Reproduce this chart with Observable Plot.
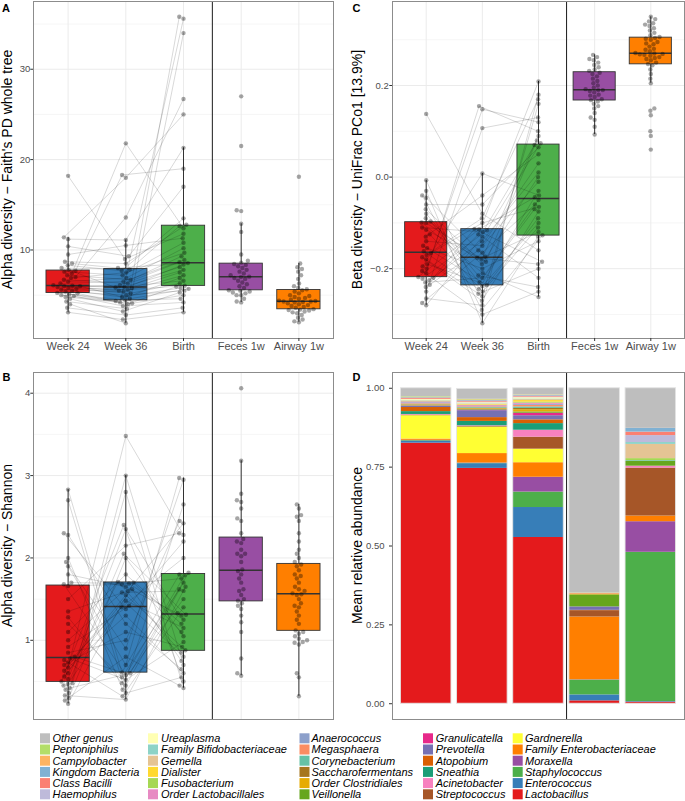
<!DOCTYPE html>
<html><head><meta charset="utf-8">
<script src="https://cdn.jsdelivr.net/npm/d3@7"></script>
<script src="https://cdn.jsdelivr.net/npm/@observablehq/plot@0.6"></script>
<style>
body{margin:0;background:#fff;font-family:"Liberation Sans",Arial,Helvetica,sans-serif;}
#root{position:relative;width:685px;height:801px;overflow:hidden;background:#fff}
#root > svg{position:absolute}
</style></head><body><div id="root"></div>
<script>
// ---------- categories ----------
const groups = ["Week 24","Week 36","Birth","Feces 1w","Airway 1w"];
const groupColors = ["#E41A1C","#377EB8","#4DAF4A","#984EA3","#FF7F00"];

// ---------- Panel A: Faith's PD (first three arrays aligned by subject) ----------
const faithWeek24 = [6.0,4.8,7.4,5.5,11.2,3.6,6.5,5.1,8.3,6.05,4.3,7.7,5.9,18.2,5.25,6.9,4.0,8.7,5.7,6.3,3.1,7.0,5.4,9.5,6.1,4.9,7.6,5.8,11.4,5.0,6.7,4.6,8.0,5.6,6.0,10.4,5.2,7.2,8.5,7.8];
const faithWeek36 = [5.5,4.2,21.8,4.8,11.1,2.8,6.9,4.35,7.7,5.8,3.5,18.3,6.1,9.0,4.45,7.5,1.9,8.5,5.2,6.5,2.3,13.6,5.0,10.5,5.95,3.8,7.2,5.6,18.0,4.1,6.3,3.2,7.85,5.4,4.6,9.3,4.0,6.7,8.0,5.85];
const faithBirth = [8.4,35.6,12.4,5.8,21.3,3.6,10.2,6.9,13.5,7.5,35.8,19.0,8.65,11.8,4.6,9.7,34.0,12.8,6.3,8.9,3.1,26.7,5.5,11.3,7.8,4.2,10.8,6.05,25.0,5.0,8.1,5.3,12.65,7.2,5.7,17.0,5.95,9.3,8.55,6.6];
const faithFeces = [4.2,4.3,4.6,5.0,5.0,5.2,5.3,5.4,5.5,5.55,5.8,6.0,6.2,6.4,6.6,6.8,6.9,7.0,7.05,7.2,7.4,7.6,7.8,8.0,8.2,8.35,8.45,8.6,8.8,9.5,12.0,12.9,14.3,14.4,21.5,27.0];
const faithAirway = [2.0,2.1,2.3,2.5,2.8,3.0,3.1,3.2,3.3,3.35,3.4,3.45,3.6,3.7,3.8,3.9,4.0,4.1,4.2,4.25,4.3,4.3,4.35,4.4,4.5,4.6,4.7,4.8,4.9,5.0,5.2,5.4,5.55,5.65,5.8,6.0,6.3,6.8,7.2,7.6,7.9,8.1,8.5,18.1];

// ---------- Panel B: Shannon ----------
const shannonWeek24 = [0.56,1.68,0.4,0.85,2.7,0.23,0.73,1.28,0.48,1.9,0.63,0.33,1.1,2.28,0.45,0.78,1.66,0.27,0.53,2.0,0.92,0.42,1.7,0.67,2.83,0.3,1.35,0.76,0.5,1.95,0.47,1.2,0.6,2.3,0.36,0.8,1.8,0.7,1.5,1.0];
const shannonWeek36 = [1.62,0.58,2.05,1.0,0.36,1.7,1.4,0.48,2.8,0.7,1.55,0.28,1.8,1.2,3.48,0.52,1.68,0.8,2.35,0.4,1.42,0.6,1.69,1.3,0.45,2.0,1.6,0.32,2.4,0.9,1.48,0.55,1.71,1.38,3.0,0.61,1.65,1.1,2.15,1.58];
const shannonBirth = [0.75,1.79,1.31,2.45,0.55,1.1,2.0,1.5,0.42,2.97,0.88,1.65,1.2,0.65,2.28,0.98,1.75,0.45,1.33,2.65,0.8,1.82,1.25,0.6,1.7,1.05,2.42,1.4,0.5,2.95,1.15,1.62,0.85,2.2,0.7,1.8,1.3,0.92,2.3,1.6];
const shannonFeces = [0.57,0.6,0.78,1.1,1.22,1.3,1.38,1.42,1.45,1.48,1.5,1.55,1.6,1.62,1.7,1.75,1.8,1.84,1.86,1.95,2.02,2.05,2.05,2.1,2.18,2.2,2.23,2.3,2.45,2.48,2.6,2.68,2.7,2.78,3.18,4.06];
const shannonAirway = [0.32,0.55,0.6,0.95,0.97,0.98,1.0,1.02,1.05,1.08,1.1,1.12,1.2,1.25,1.3,1.35,1.4,1.42,1.45,1.5,1.55,1.56,1.57,1.6,1.62,1.65,1.7,1.75,1.78,1.8,1.85,1.9,1.92,1.95,2.0,2.05,2.1,2.2,2.3,2.45,2.5,2.52,2.6,2.65];

// ---------- Panel C: UniFrac PCo1 ----------
const unifracWeek24 = [-0.125,-0.222,-0.07,-0.195,-0.265,-0.099,-0.166,-0.235,-0.03,-0.21,-0.15,-0.28,-0.09,-0.18,0.138,-0.23,-0.11,-0.205,-0.045,-0.25,-0.162,-0.22,-0.1,-0.175,-0.24,-0.08,-0.13,-0.275,-0.04,-0.2,-0.155,-0.225,-0.097,-0.17,-0.007,-0.218,-0.115,-0.19,-0.06,-0.14];
const unifracWeek36 = [-0.25,-0.116,-0.176,0.008,-0.28,-0.21,-0.1,-0.16,-0.319,0.155,-0.236,-0.13,-0.19,-0.26,-0.08,-0.22,-0.12,-0.3,-0.174,0.107,-0.245,-0.113,-0.185,-0.27,-0.125,-0.215,-0.04,-0.165,-0.29,0.148,-0.2,-0.14,-0.238,-0.09,-0.255,-0.114,-0.18,-0.23,-0.06,-0.15];
const unifracBirth = [-0.11,0.074,-0.19,-0.04,0.18,-0.262,-0.065,0.03,-0.13,0.1,-0.09,-0.22,0.0,0.16,-0.16,-0.05,0.07,-0.25,-0.12,0.13,-0.03,-0.185,0.08,-0.075,0.209,-0.24,0.05,-0.06,-0.127,0.12,-0.14,0.01,-0.1,0.17,-0.2,-0.044,0.09,-0.07,0.065,-0.01];
const unifracFeces = [0.093,0.11,0.125,0.13,0.14,0.15,0.155,0.16,0.165,0.168,0.17,0.175,0.178,0.18,0.185,0.188,0.19,0.19,0.192,0.195,0.2,0.205,0.21,0.215,0.22,0.225,0.228,0.232,0.235,0.24,0.245,0.25,0.255,0.258,0.262,0.267];
const unifracAirway = [0.06,0.09,0.1,0.135,0.145,0.15,0.205,0.215,0.225,0.235,0.244,0.247,0.25,0.255,0.258,0.26,0.262,0.265,0.267,0.268,0.269,0.27,0.271,0.275,0.278,0.28,0.285,0.29,0.292,0.295,0.3,0.302,0.304,0.306,0.31,0.315,0.32,0.325,0.33,0.333,0.336,0.34,0.345,0.35];

// ---------- Panel D: genera (stack order bottom -> top) ----------
const genera = ["Lactobacillus","Enterococcus","Staphylococcus","Moraxella","Family Enterobacteriaceae","Gardnerella","Streptococcus","Acinetobacter","Sneathia","Atopobium","Prevotella","Granulicatella","Veillonella","Order Clostridiales","Saccharofermentans","Corynebacterium","Megasphaera","Anaerococcus","Order Lactobacillales","Fusobacterium","Dialister","Gemella","Family Bifidobacteriaceae","Ureaplasma","Haemophilus","Class Bacilli","Kingdom Bacteria","Campylobacter","Peptoniphilus","Other genus"];
const generaColors = ["#E41A1C","#377EB8","#4DAF4A","#984EA3","#FF7F00","#FFFF33","#A65628","#F781BF","#1B9E77","#D95F02","#7570B3","#E7298A","#66A61E","#E6AB02","#A6761D","#66C2A5","#FC8D62","#8DA0CB","#E78AC3","#A6D854","#FFD92F","#E5C494","#8DD3C7","#FFFFB3","#BEBADA","#FB8072","#80B1D3","#FDB462","#B3DE69","#BEBEBE"];
const abundWeek24 = [0.826,0.006,0.002,0.001,0.004,0.074,0.002,0.002,0.009,0.013,0.004,0.001,0.001,0.002,0.001,0.001,0.002,0.003,0.003,0.001,0.001,0.001,0.001,0.003,0.001,0.003,0.002,0.001,0.002,0.027];
const abundWeek36 = [0.746,0.015,0.001,0.001,0.030,0.084,0.002,0.002,0.014,0.012,0.022,0.002,0.002,0.002,0.002,0.002,0.002,0.001,0.003,0.001,0.002,0.002,0.001,0.003,0.002,0.003,0.002,0.002,0.002,0.033];
const abundBirth = [0.527,0.095,0.049,0.047,0.046,0.043,0.038,0.022,0.021,0.012,0.013,0.008,0.004,0.007,0.004,0.005,0.005,0.003,0.004,0.003,0.005,0.003,0.002,0.004,0.002,0.003,0.002,0.001,0.001,0.021];
const abundFeces = [0.009,0.019,0.047,0.001,0.199,0,0.020,0,0,0.001,0.011,0,0.038,0.003,0,0,0,0,0,0,0,0,0,0,0,0.002,0,0,0.001,0.649];
const abundAirway = [0.005,0.002,0.473,0.097,0.018,0,0.152,0.006,0,0,0,0,0.016,0,0,0.002,0,0,0,0.006,0,0.045,0.006,0,0.022,0.011,0.012,0,0,0.127];

// ---------- helpers ----------
const FONT = "'Liberation Sans', Arial, Helvetica, sans-serif";
const root = document.getElementById("root");
const xDomain = [0.4, 5.6];
const positions = [1,2,3,4,5];

function place(svg, left, top) {
  svg.style.left = left + "px";
  svg.style.top = top + "px";
  root.appendChild(svg);
}

function boxStats(arr, g) {
  const s = arr.slice().sort(d3.ascending);
  const q1 = d3.quantile(s, 0.25), med = d3.quantile(s, 0.5), q3 = d3.quantile(s, 0.75);
  const iqr = q3 - q1;
  const lo = d3.min(s.filter(v => v >= q1 - 1.5 * iqr));
  const hi = d3.max(s.filter(v => v <= q3 + 1.5 * iqr));
  return {g, q1, med, q3, lo, hi};
}

function boxPanel(o) {
  const {values, left, top, width, height, ml, mr, mt, mb, yTicks, yMinor, fmt, showX, tickPad} = o;
  const all = values.flat();
  const [mn, mx] = d3.extent(all);
  const pad = (mx - mn) * 0.05;
  const yDom = [mn - pad, mx + pad];
  const innerW = width - ml - mr, innerH = height - mt - mb;
  const ux = innerW / (xDomain[1] - xDomain[0]);
  const uy = innerH / (yDom[1] - yDom[0]);
  const D = 4.6;
  const pts = [];
  const lookup = new Map();
  values.forEach((arr, gi) => {
    const idx = d3.range(arr.length).sort((a, b) => arr[a] - arr[b]);
    const placed = [];
    idx.forEach(k => {
      const py = arr[k] * uy;
      const near = placed.filter(p => Math.abs(p.py - py) < D);
      const cands = [0];
      near.forEach(p => { const dx = Math.sqrt(D * D - (p.py - py) ** 2); cands.push(p.px + dx, p.px - dx); });
      cands.sort((a, b) => Math.abs(a) - Math.abs(b) || a - b);
      const px = cands.find(c => near.every(p => (p.px - c) ** 2 + (p.py - py) ** 2 >= D * D - 1e-6));
      placed.push({px, py});
      const pt = {g: gi + 1, subj: k, v: arr[k], x: gi + 1 + px / ux};
      pts.push(pt);
      lookup.set(gi + "-" + k, pt);
    });
  });
  const lineData = [];
  d3.range(values[0].length).forEach(k => {
    for (let gi = 0; gi < 3; gi++) lineData.push(lookup.get(gi + "-" + k));
  });
  const stats = values.map((arr, gi) => boxStats(arr, gi + 1));
  const hw = 0.375;
  const svg = Plot.plot({
    width, height, marginLeft: ml, marginRight: mr, marginTop: mt, marginBottom: mb,
    x: {domain: xDomain, axis: null}, y: {domain: yDom, axis: null},
    color: {type: "identity"},
    style: {fontFamily: FONT, fontSize: "11px", color: "#4D4D4D", background: "transparent", overflow: "visible"},
    marks: [
      Plot.ruleY(yMinor, {stroke: "#F2F2F2", strokeWidth: 0.7}),
      Plot.ruleY(yTicks, {stroke: "#EBEBEB", strokeWidth: 1}),
      Plot.ruleX(positions, {stroke: "#EBEBEB", strokeWidth: 1}),
      Plot.ruleX(stats, {x: "g", y1: "lo", y2: "q1", stroke: "#333", strokeWidth: 1}),
      Plot.ruleX(stats, {x: "g", y1: "q3", y2: "hi", stroke: "#333", strokeWidth: 1}),
      Plot.rect(stats, {x1: d => d.g - hw, x2: d => d.g + hw, y1: "q1", y2: "q3", fill: d => groupColors[d.g - 1], stroke: "#333", strokeWidth: 0.9}),
      Plot.ruleY(stats, {x1: d => d.g - hw, x2: d => d.g + hw, y: "med", stroke: "#333", strokeWidth: 1.5}),
      Plot.line(lineData, {x: "x", y: "v", z: "subj", stroke: "#000", strokeOpacity: 0.26, strokeWidth: 0.6}),
      Plot.dot(pts, {x: "x", y: "v", r: 2.2, fill: "#000", fillOpacity: 0.35}),
      Plot.ruleX([3.5], {stroke: "#1a1a1a", strokeWidth: 1}),
      Plot.frame({stroke: "#8c8c8c", strokeWidth: 1}),
      Plot.axisY(yTicks, {tickFormat: fmt, tickSize: 2.7, tickPadding: tickPad, fontSize: 9.5, label: null, stroke: "#333"}),
      showX ? Plot.axisX(positions, {tickFormat: d => groups[d - 1], tickSize: 3, tickPadding: 1, fontSize: 11, label: null, stroke: "#333"}) : null
    ]
  });
  place(svg, left, top);
}

// Panel A
boxPanel({values: [faithWeek24, faithWeek36, faithBirth, faithFeces, faithAirway],
  left: 0, top: 0, width: 340, height: 360, ml: 33, mr: 7, mt: 1, mb: 22,
  yTicks: [10, 20, 30], yMinor: [5, 15, 25, 35], fmt: d3.format("d"), showX: true, tickPad: 0.5});
// Panel C
boxPanel({values: [unifracWeek24, unifracWeek36, unifracBirth, unifracFeces, unifracAirway],
  left: 340, top: 0, width: 345, height: 360, ml: 52, mr: 1, mt: 1, mb: 22,
  yTicks: [-0.2, 0, 0.2], yMinor: [-0.3, -0.1, 0.1, 0.3], fmt: d3.format(".1f"), showX: true, tickPad: 1});
// Panel B
boxPanel({values: [shannonWeek24, shannonWeek36, shannonBirth, shannonFeces, shannonAirway],
  left: 0, top: 360, width: 340, height: 360, ml: 33, mr: 7, mt: 12, mb: 1,
  yTicks: [1, 2, 3, 4], yMinor: [0.5, 1.5, 2.5, 3.5], fmt: d3.format("d"), showX: false, tickPad: 0.5});

// Panel D: stacked bars
const abund = [abundWeek24, abundWeek36, abundBirth, abundFeces, abundAirway];
const segs = [];
abund.forEach((arr, gi) => {
  let acc = 0;
  arr.forEach((v, j) => {
    if (v > 0) segs.push({g: gi + 1, genus: genera[j], color: generaColors[j], y1: acc, y2: acc + v});
    acc += v;
  });
});
const bars = abund.map((arr, gi) => ({g: gi + 1, total: d3.sum(arr)}));
const bw = 0.45;
const svgD = Plot.plot({
  width: 345, height: 360, marginLeft: 52, marginRight: 1, marginTop: 12, marginBottom: 1,
  x: {domain: xDomain, axis: null}, y: {domain: [-0.05, 1.05], axis: null},
  color: {type: "identity"},
  style: {fontFamily: FONT, fontSize: "11px", color: "#4D4D4D", background: "transparent", overflow: "visible"},
  marks: [
    Plot.rect(segs, {x1: d => d.g - bw, x2: d => d.g + bw, y1: "y1", y2: "y2", fill: "color"}),
    Plot.rect(bars, {x1: d => d.g - bw, x2: d => d.g + bw, y1: 0, y2: "total", fill: "none", stroke: "#e4e4e4", strokeWidth: 0.9}),
    Plot.ruleX([3.5], {stroke: "#1a1a1a", strokeWidth: 1}),
    Plot.frame({stroke: "#8c8c8c", strokeWidth: 1}),
    Plot.axisY([0, 0.25, 0.5, 0.75, 1], {tickFormat: d3.format(".2f"), tickSize: 3, tickPadding: 5, fontSize: 9.5, label: null, stroke: "#333"})
  ]
});
place(svgD, 340, 360);

// ---------- overlay text: panel letters, axis titles, legend ----------
const ov = d3.select(root).append("svg")
  .attr("width", 685).attr("height", 801)
  .style("left", "0px").style("top", "0px")
  .style("font-family", FONT);

const letters = [["A", 2, 11.7], ["C", 352.5, 11.7], ["B", 2.5, 380.7], ["D", 352.5, 380.7]];
letters.forEach(([t, x, y]) => ov.append("text").attr("x", x).attr("y", y)
  .attr("font-weight", "bold").attr("font-size", 11).attr("fill", "#000").text(t));

const titles = [
  ["Alpha diversity \u2212 Faith's PD whole tree", 7, 169.5],
  ["Beta diversity \u2212 UniFrac PCo1 [13.9%]", 357.5, 169.5],
  ["Alpha diversity \u2212 Shannon", 7, 545.5],
  ["Mean relative abundance", 357.5, 545.5]
];
titles.forEach(([t, x, y]) => ov.append("text")
  .attr("transform", `translate(${x},${y}) rotate(-90)`)
  .attr("text-anchor", "middle").attr("dy", "0.35em")
  .attr("font-size", 14).attr("fill", "#000").text(t));

// legend: reverse stack order, filled column by column, 6 rows
const legendOrder = genera.map((g, i) => i).reverse();
const colKeyX = [40, 148, 299.5, 423, 512.7];
const colTextX = [52.5, 161, 311.5, 435.7, 525];
legendOrder.forEach((gi, n) => {
  const col = Math.floor(n / 6), row = n % 6;
  const cy = 738.3 + row * 11.2;
  ov.append("rect").attr("x", colKeyX[col]).attr("y", cy - 5).attr("width", 10).attr("height", 10)
    .attr("fill", generaColors[gi]);
  ov.append("text").attr("x", colTextX[col]).attr("y", cy).attr("dy", "0.36em")
    .attr("font-size", 11).attr("font-style", "italic").attr("fill", "#000").text(genera[gi]);
});
</script>
</body></html>
